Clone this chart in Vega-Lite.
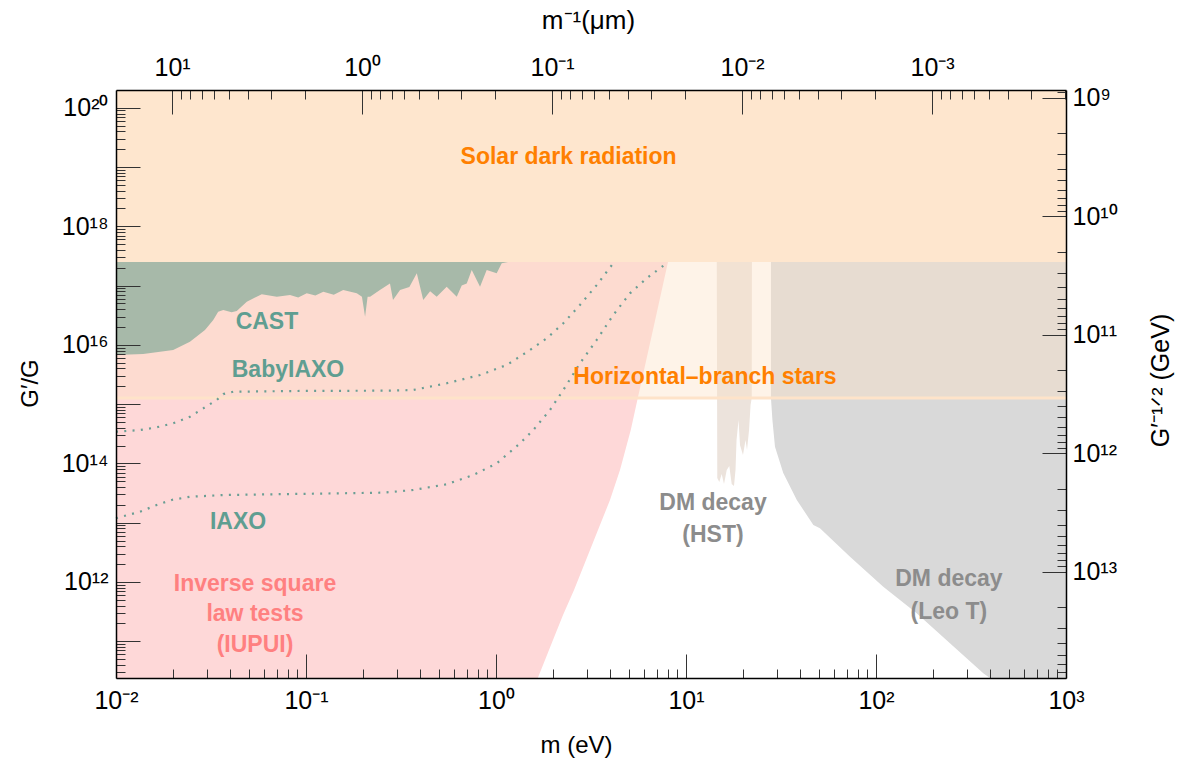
{
  "$schema": "https://vega.github.io/schema/vega-lite/v6.json",
  "width": 950,
  "height": 588,
  "autosize": {"type": "none"},
  "padding": {"left": 116, "top": 90, "right": 126, "bottom": 87},
  "background": "white",
  "config": {
    "view": {"stroke": null},
    "axis": {
      "labelFont": "Liberation Sans", "labelFontSize": 25, "labelColor": "black",
      "labelFlush": false, "labelOverlap": false, "labelBound": false,
      "tickColor": "#333333", "tickWidth": 1,
      "domainColor": "black", "domainWidth": 1.5,
      "grid": false,
      "titleFont": "Liberation Sans", "titleFontSize": 24, "titleFontWeight": "normal", "titleColor": "black",
      "titleBaseline": "middle", "titleAlign": "center"
    }
  },
  "datasets": {
    "solar": [{"m": 0.01, "m2": 1000, "g": 2.5e17, "g2": 1.995e20}],
    "hb": [{"m": 0.01, "m2": 1000, "g": 1.27e15, "g2": 2.5e17}],
    "pink": [
      {"m": 0.01, "g": 2.399e10}, {"m": 1.66, "g": 2.399e10}, {"m": 1.811, "g": 4.82e10},
      {"m": 1.995, "g": 1.05e11}, {"m": 2.253, "g": 2.77e11}, {"m": 2.574, "g": 7.31e11},
      {"m": 2.977, "g": 2.34e12}, {"m": 3.442, "g": 7.53e12}, {"m": 3.981, "g": 2.42e13},
      {"m": 4.494, "g": 7.74e13}, {"m": 5.12, "g": 3.66e14}, {"m": 5.59, "g": 1.32e15},
      {"m": 6.7, "g": 1.78e16}, {"m": 8.04, "g": 2.5e17}
    ],
    "leot": [
      {"m": 398, "g": 2.399e10}, {"m": 367, "g": 2.88e10}, {"m": 245, "g": 9.23e10},
      {"m": 163.7, "g": 2.96e11}, {"m": 109.2, "g": 8.32e11}, {"m": 73.0, "g": 2.67e12},
      {"m": 50.7, "g": 8.04e12}, {"m": 46.8, "g": 9.14e12}, {"m": 38.3, "g": 2.42e13},
      {"m": 32.5, "g": 6.89e13}, {"m": 29.4, "g": 1.91e14}, {"m": 28.5, "g": 5.41e14},
      {"m": 28.0, "g": 1.27e15}, {"m": 28.0, "g": 2.5e17}
    ],
    "hst": [
      {"m": 14.52, "g": 2.5e17}, {"m": 14.61, "g": 5.68e13}, {"m": 14.97, "g": 4.86e13},
      {"m": 15.41, "g": 6.62e13}, {"m": 15.85, "g": 4.5e13}, {"m": 16.38, "g": 7.74e13},
      {"m": 16.9, "g": 9.04e13}, {"m": 17.4, "g": 4.5e13}, {"m": 17.89, "g": 4.16e13},
      {"m": 18.22, "g": 7.74e13}, {"m": 18.45, "g": 2.48e14}, {"m": 18.9, "g": 5.41e14},
      {"m": 19.24, "g": 2.05e14}, {"m": 19.95, "g": 1.39e14}, {"m": 20.57, "g": 2.48e14},
      {"m": 20.95, "g": 1.68e14}, {"m": 21.47, "g": 3.66e14}, {"m": 21.87, "g": 9.68e14},
      {"m": 22.18, "g": 1.27e15}, {"m": 22.23, "g": 2.5e17}
    ],
    "cast": [
      {"m": 0.01, "g": 6.75e15}, {"m": 0.0139, "g": 7.02e15}, {"m": 0.02, "g": 8.2e15},
      {"m": 0.0245, "g": 1.13e16}, {"m": 0.0294, "g": 1.78e16}, {"m": 0.0325, "g": 2.63e16},
      {"m": 0.0345, "g": 3.63e16}, {"m": 0.0367, "g": 3.87e16}, {"m": 0.0406, "g": 3.55e16},
      {"m": 0.0432, "g": 3.72e16}, {"m": 0.0488, "g": 5.36e16}, {"m": 0.055, "g": 6.5e16},
      {"m": 0.0585, "g": 7.13e16}, {"m": 0.0702, "g": 6.5e16}, {"m": 0.0824, "g": 6.95e16},
      {"m": 0.091, "g": 6.3e16}, {"m": 0.1009, "g": 7.41e16}, {"m": 0.112, "g": 6.8e16},
      {"m": 0.1234, "g": 7.89e16}, {"m": 0.14, "g": 7.0e16}, {"m": 0.157, "g": 8.43e16},
      {"m": 0.185, "g": 7.41e16}, {"m": 0.197, "g": 6.5e16}, {"m": 0.2046, "g": 2.99e16},
      {"m": 0.211, "g": 6.5e16}, {"m": 0.2174, "g": 6.5e16}, {"m": 0.2449, "g": 8.43e16},
      {"m": 0.2767, "g": 1.09e17}, {"m": 0.287, "g": 5.71e16}, {"m": 0.3126, "g": 8.43e16},
      {"m": 0.35, "g": 9.5e16}, {"m": 0.383, "g": 1.61e17}, {"m": 0.414, "g": 5.71e16},
      {"m": 0.45, "g": 8.0e16}, {"m": 0.4874, "g": 6.5e16}, {"m": 0.5502, "g": 9.59e16},
      {"m": 0.6215, "g": 6.5e16}, {"m": 0.66, "g": 1.0e17}, {"m": 0.7014, "g": 1.09e17},
      {"m": 0.7452, "g": 1.83e17}, {"m": 0.8241, "g": 9.59e16}, {"m": 0.8934, "g": 1.83e17},
      {"m": 1.0085, "g": 1.61e17}, {"m": 1.072, "g": 2.38e17}, {"m": 1.157, "g": 2.5e17}
    ],
    "axion": [
      {"s": "BabyIAXO", "m": 0.01, "g": 3.43e14}, {"s": "BabyIAXO", "m": 0.01337, "g": 3.66e14},
      {"s": "BabyIAXO", "m": 0.01637, "g": 4.07e14}, {"s": "BabyIAXO", "m": 0.02, "g": 4.75e14},
      {"s": "BabyIAXO", "m": 0.0245, "g": 6.14e14}, {"s": "BabyIAXO", "m": 0.0288, "g": 8.51e14},
      {"s": "BabyIAXO", "m": 0.0339, "g": 1.175e15}, {"s": "BabyIAXO", "m": 0.0367, "g": 1.48e15},
      {"s": "BabyIAXO", "m": 0.0414, "g": 1.62e15}, {"s": "BabyIAXO", "m": 0.0929, "g": 1.67e15},
      {"s": "BabyIAXO", "m": 0.2767, "g": 1.69e15}, {"s": "BabyIAXO", "m": 0.3656, "g": 1.73e15},
      {"s": "BabyIAXO", "m": 0.55, "g": 2.25e15}, {"s": "BabyIAXO", "m": 0.824, "g": 3.1e15},
      {"s": "BabyIAXO", "m": 1.138, "g": 4.57e15}, {"s": "BabyIAXO", "m": 1.509, "g": 8.2e15},
      {"s": "BabyIAXO", "m": 1.848, "g": 1.29e16}, {"s": "BabyIAXO", "m": 2.26, "g": 2.31e16},
      {"s": "BabyIAXO", "m": 2.766, "g": 4.71e16}, {"s": "BabyIAXO", "m": 3.388, "g": 1.02e17},
      {"s": "BabyIAXO", "m": 4.14, "g": 2.38e17},
      {"s": "IAXO", "m": 0.01, "g": 1.19e13}, {"s": "IAXO", "m": 0.01337, "g": 1.53e13},
      {"s": "IAXO", "m": 0.01637, "g": 1.99e13}, {"s": "IAXO", "m": 0.01963, "g": 2.42e13},
      {"s": "IAXO", "m": 0.0245, "g": 2.74e13}, {"s": "IAXO", "m": 0.0367, "g": 2.93e13},
      {"s": "IAXO", "m": 0.2553, "g": 3.21e13}, {"s": "IAXO", "m": 0.367, "g": 3.56e13},
      {"s": "IAXO", "m": 0.55, "g": 4.45e13}, {"s": "IAXO", "m": 0.76, "g": 6.38e13},
      {"s": "IAXO", "m": 1.0085, "g": 1.0e14}, {"s": "IAXO", "m": 1.337, "g": 2.18e14},
      {"s": "IAXO", "m": 1.571, "g": 3.66e14}, {"s": "IAXO", "m": 1.923, "g": 7.96e14},
      {"s": "IAXO", "m": 2.26, "g": 1.73e15}, {"s": "IAXO", "m": 2.766, "g": 4.89e15},
      {"s": "IAXO", "m": 3.388, "g": 1.21e16}, {"s": "IAXO", "m": 4.14, "g": 3.19e16},
      {"s": "IAXO", "m": 5.07, "g": 7.41e16}, {"s": "IAXO", "m": 6.21, "g": 1.33e17},
      {"s": "IAXO", "m": 7.91, "g": 2.38e17}
    ],
    "txtOrange": [
      {"m": 2.41, "g": 1.48e19, "label": "Solar dark radiation"},
      {"m": 12.59, "g": 2.87e15, "label": "Horizontal–branch stars"}
    ],
    "txtTeal": [
      {"m": 0.0623, "g": 2.43e16, "label": "CAST"},
      {"m": 0.0804, "g": 3.77e15, "label": "BabyIAXO"},
      {"m": 0.0439, "g": 1.03e13, "label": "IAXO"}
    ],
    "txtPink": [
      {"m": 0.0539, "g": 9.25e11, "label": "Inverse square\nlaw tests\n(IUPUI)"}
    ],
    "txtGray": [
      {"m": 13.87, "g": 2.15e13, "label": "DM decay\n(HST)"},
      {"m": 242, "g": 1.12e12, "label": "DM decay\n(Leo T)"}
    ],
    "dual": [{"lam": 1, "gev": 1e10}]
  },
  "layer": [
    {
      "encoding": {
        "x": {
          "field": "m", "type": "quantitative",
          "scale": {"type": "log", "domain": [0.01, 1000], "nice": false, "zero": false},
          "axis": {
            "orient": "bottom", "zindex": 1,
            "values": [0.01,0.02,0.03,0.04,0.05,0.06,0.07,0.08,0.09,0.1,0.2,0.3,0.4,0.5,0.6,0.7,0.8,0.9,1,2,3,4,5,6,7,8,9,10,20,30,40,50,60,70,80,90,100,200,300,400,500,600,700,800,900,1000],
            "labelExpr": "abs(log(datum.value)/LN10 - round(log(datum.value)/LN10)) < 0.001 ? '10' + replace(replace(replace(replace(replace(replace(replace(replace(replace(replace(replace(('' + round(log(datum.value)/LN10)),'-','⁻'),regexp('0','g'),'⁰'),regexp('1','g'),'¹'),regexp('2','g'),'²'),regexp('3','g'),'³'),regexp('4','g'),'⁴'),regexp('5','g'),'⁵'),regexp('6','g'),'⁶'),regexp('7','g'),'⁷'),regexp('8','g'),'⁸'),regexp('9','g'),'⁹') : ''",
            "tickSize": {"condition": {"test": "abs(log(datum.value)/LN10 - round(log(datum.value)/LN10)) < 0.001", "value": -24}, "value": -9},
            "labelPadding": 34,
            "title": "m (eV)", "titleX": 460, "titleY": 67
          }
        },
        "y": {
          "field": "g", "type": "quantitative",
          "scale": {"type": "log", "domain": [2.399e10, 1.995e20], "nice": false, "zero": false},
          "axis": {
            "orient": "left", "zindex": 1,
            "values": [3e10,4e10,5e10,6e10,7e10,8e10,9e10,1e11,2e11,3e11,4e11,5e11,6e11,7e11,8e11,9e11,1e12,2e12,3e12,4e12,5e12,6e12,7e12,8e12,9e12,1e13,2e13,3e13,4e13,5e13,6e13,7e13,8e13,9e13,1e14,2e14,3e14,4e14,5e14,6e14,7e14,8e14,9e14,1e15,2e15,3e15,4e15,5e15,6e15,7e15,8e15,9e15,1e16,2e16,3e16,4e16,5e16,6e16,7e16,8e16,9e16,1e17,2e17,3e17,4e17,5e17,6e17,7e17,8e17,9e17,1e18,2e18,3e18,4e18,5e18,6e18,7e18,8e18,9e18,1e19,2e19,3e19,4e19,5e19,6e19,7e19,8e19,9e19,1e20],
            "labelExpr": "(abs(log(datum.value)/LN10 - round(log(datum.value)/LN10)) < 0.001 && round(log(datum.value)/LN10) % 2 == 0) ? '10' + replace(replace(replace(replace(replace(replace(replace(replace(replace(replace(replace(('' + round(log(datum.value)/LN10)),'-','⁻'),regexp('0','g'),'⁰'),regexp('1','g'),'¹'),regexp('2','g'),'²'),regexp('3','g'),'³'),regexp('4','g'),'⁴'),regexp('5','g'),'⁵'),regexp('6','g'),'⁶'),regexp('7','g'),'⁷'),regexp('8','g'),'⁸'),regexp('9','g'),'⁹') : ''",
            "tickSize": {"condition": {"test": "abs(log(datum.value)/LN10 - round(log(datum.value)/LN10)) < 0.001", "value": -24}, "value": -9},
            "labelPadding": 32,
            "title": "G′/G", "titleX": -86, "titleY": 293, "titleAngle": -90
          }
        }
      },
      "layer": [
        {
          "data": {"name": "pink"},
          "mark": {"type": "area", "color": "#fed8d8", "opacity": 1},
          "encoding": {"y2": {"datum": 2.5e17}}
        },
        {
          "data": {"name": "leot"},
          "mark": {"type": "area", "orient": "horizontal", "color": "#d9d9d9", "opacity": 1},
          "encoding": {"x2": {"datum": 1000}}
        },
        {
          "data": {"name": "hst"},
          "mark": {"type": "area", "color": "#ece3dc", "opacity": 1},
          "encoding": {"y2": {"datum": 2.5e17}}
        },
        {
          "data": {"name": "hb"},
          "mark": {"type": "rect", "color": "#fce1c5", "opacity": 0.4},
          "encoding": {"x2": {"field": "m2"}, "y2": {"field": "g2"}}
        },
        {
          "data": {"name": "hb"},
          "mark": {"type": "rule", "color": "#fee3c9", "strokeWidth": 3},
          "encoding": {"x2": {"field": "m2"}}
        },
        {
          "data": {"name": "cast"},
          "mark": {"type": "area", "color": "#a7b9a9", "opacity": 1},
          "encoding": {"y2": {"datum": 2.5e17}}
        },
        {
          "data": {"name": "solar"},
          "mark": {"type": "rect", "color": "#fee6ce", "opacity": 1},
          "encoding": {"x2": {"field": "m2"}, "y2": {"field": "g2"}}
        },
        {
          "data": {"name": "axion"},
          "mark": {"type": "line", "color": "#6a9e94", "strokeWidth": 2.2, "strokeDash": [2, 6.3], "strokeCap": "butt"},
          "encoding": {"detail": {"field": "s"}}
        },
        {
          "data": {"name": "txtOrange"},
          "mark": {"type": "text", "color": "#ff8000", "font": "Liberation Sans", "fontWeight": "bold", "fontSize": 23, "align": "center", "baseline": "middle"},
          "encoding": {"text": {"field": "label"}}
        },
        {
          "data": {"name": "txtTeal"},
          "mark": {"type": "text", "color": "#5f9e91", "font": "Liberation Sans", "fontWeight": "bold", "fontSize": 23, "align": "center", "baseline": "middle"},
          "encoding": {"text": {"field": "label"}}
        },
        {
          "data": {"name": "txtPink"},
          "mark": {"type": "text", "color": "#ff8080", "font": "Liberation Sans", "fontWeight": "bold", "fontSize": 23, "align": "center", "baseline": "middle", "lineBreak": "\n", "lineHeight": 30.5},
          "encoding": {"text": {"field": "label"}}
        },
        {
          "data": {"name": "txtGray"},
          "mark": {"type": "text", "color": "#8c8c8c", "font": "Liberation Sans", "fontWeight": "bold", "fontSize": 23, "align": "center", "baseline": "middle", "lineBreak": "\n", "lineHeight": 32.5},
          "encoding": {"text": {"field": "label"}}
        }
      ]
    },
    {
      "data": {"name": "dual"},
      "mark": {"type": "point", "opacity": 0},
      "encoding": {
        "x": {
          "field": "lam", "type": "quantitative",
          "scale": {"type": "log", "domain": [1.97327e-4, 19.7327], "reverse": true, "nice": false, "zero": false},
          "axis": {
            "orient": "top", "zindex": 1,
            "values": [0.0002,0.0003,0.0004,0.0005,0.0006,0.0007,0.0008,0.0009,0.001,0.002,0.003,0.004,0.005,0.006,0.007,0.008,0.009,0.01,0.02,0.03,0.04,0.05,0.06,0.07,0.08,0.09,0.1,0.2,0.3,0.4,0.5,0.6,0.7,0.8,0.9,1,2,3,4,5,6,7,8,9,10],
            "labelExpr": "abs(log(datum.value)/LN10 - round(log(datum.value)/LN10)) < 0.001 ? '10' + replace(replace(replace(replace(replace(replace(replace(replace(replace(replace(replace(('' + round(log(datum.value)/LN10)),'-','⁻'),regexp('0','g'),'⁰'),regexp('1','g'),'¹'),regexp('2','g'),'²'),regexp('3','g'),'³'),regexp('4','g'),'⁴'),regexp('5','g'),'⁵'),regexp('6','g'),'⁶'),regexp('7','g'),'⁷'),regexp('8','g'),'⁸'),regexp('9','g'),'⁹') : ''",
            "tickSize": {"condition": {"test": "abs(log(datum.value)/LN10 - round(log(datum.value)/LN10)) < 0.001", "value": -24}, "value": -9},
            "labelPadding": 34,
            "title": "m⁻¹(μm)", "titleFontSize": 26, "titleX": 472, "titleY": -70
          }
        },
        "y": {
          "field": "gev", "type": "quantitative",
          "scale": {"type": "log", "domain": [8.643e8, 7.885e13], "reverse": true, "nice": false, "zero": false},
          "axis": {
            "orient": "right", "zindex": 1,
            "values": [9e8,1e9,2e9,3e9,4e9,5e9,6e9,7e9,8e9,9e9,1e10,2e10,3e10,4e10,5e10,6e10,7e10,8e10,9e10,1e11,2e11,3e11,4e11,5e11,6e11,7e11,8e11,9e11,1e12,2e12,3e12,4e12,5e12,6e12,7e12,8e12,9e12,1e13,2e13,3e13,4e13,5e13,6e13,7e13],
            "labelExpr": "abs(log(datum.value)/LN10 - round(log(datum.value)/LN10)) < 0.001 ? '10' + replace(replace(replace(replace(replace(replace(replace(replace(replace(replace(replace(('' + round(log(datum.value)/LN10)),'-','⁻'),regexp('0','g'),'⁰'),regexp('1','g'),'¹'),regexp('2','g'),'²'),regexp('3','g'),'³'),regexp('4','g'),'⁴'),regexp('5','g'),'⁵'),regexp('6','g'),'⁶'),regexp('7','g'),'⁷'),regexp('8','g'),'⁸'),regexp('9','g'),'⁹') : ''",
            "tickSize": {"condition": {"test": "abs(log(datum.value)/LN10 - round(log(datum.value)/LN10)) < 0.001", "value": -24}, "value": -9},
            "labelPadding": 30,
            "labelAlign": "left",
            "title": "G′⁻¹ᐟ² (GeV)", "titleFontSize": 25, "titleX": 94, "titleY": 290, "titleAngle": -90
          }
        }
      }
    }
  ],
  "resolve": {"scale": {"x": "independent", "y": "independent"}, "axis": {"x": "independent", "y": "independent"}}
}
